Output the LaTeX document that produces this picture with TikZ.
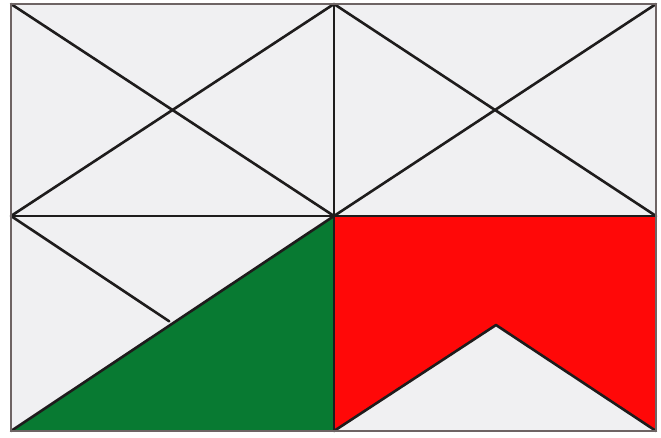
\documentclass[tikz,border=0pt]{standalone}
\usepackage{tikz}
\usetikzlibrary{calc}
\definecolor{cellbg}{RGB}{240,240,242}
\definecolor{flaggreen}{RGB}{8,122,50}
\definecolor{flagred}{RGB}{255,8,8}
\definecolor{edgecol}{RGB}{30,28,28}
\definecolor{framecol}{RGB}{110,100,100}
\tikzset{gridline/.style={draw=edgecol, line width=2.6pt, line cap=round, line join=round}}
\begin{document}
\begin{tikzpicture}[x=1pt,y=-1pt]
\useasboundingbox (0,0) rectangle (661,438);
\fill[white] (0,0) rectangle (661,438);
\coordinate (TL) at (11,4);
\coordinate (TM) at (334,4);
\coordinate (TR) at (656,4);
\coordinate (ML) at (11,216);
\coordinate (MM) at (334,216);
\coordinate (MR) at (656,216);
\coordinate (BL) at (11,431);
\coordinate (BM) at (334,431);
\coordinate (BR) at (656,431);
\coordinate (PK) at (496,325);
\fill[cellbg] (TL) rectangle (BR);
% green and red fills
\fill[flaggreen] (BL) -- (MM) -- (BM) -- cycle;
\fill[flagred] (MM) -- (MR) -- (BR) -- (PK) -- (BM) -- cycle;
% diagonals
\draw[gridline] (TL) -- (MM);
\draw[gridline] (ML) -- (TM);
\draw[gridline] (TM) -- (MR);
\draw[gridline] (MM) -- (TR);
\draw[gridline] (ML) -- ($(ML)!0.49!(BM)$);
\draw[gridline] (BL) -- (MM);
\draw[gridline] (BM) -- (PK) -- (BR);
% grid
\draw[gridline] (ML) -- (MR);
\draw[gridline] (TM) -- (BM);
\draw[draw=framecol, line width=2.6pt] (TL) rectangle (BR);
\end{tikzpicture}
\end{document}
